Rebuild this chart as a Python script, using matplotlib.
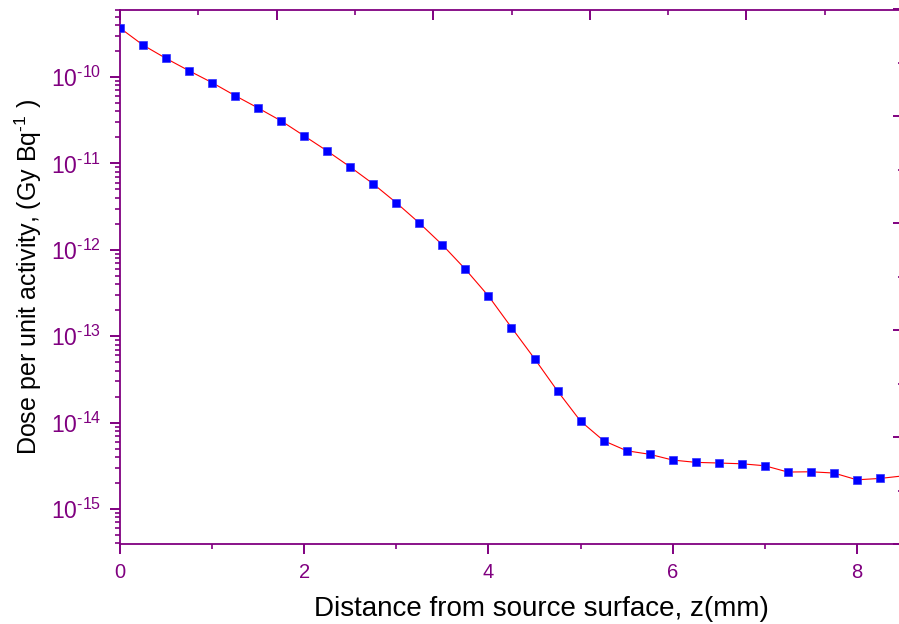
import math
import matplotlib
matplotlib.use("Agg")
import matplotlib.pyplot as plt
from matplotlib.ticker import FixedLocator, FuncFormatter, MultipleLocator, NullFormatter

plt.rcParams['font.family'] = ['Liberation Sans', 'DejaVu Sans']
plt.rcParams['mathtext.fontset'] = 'custom'
plt.rcParams['mathtext.rm'] = 'Liberation Sans'
plt.rcParams['mathtext.it'] = 'Liberation Sans:italic'

# Data
distance_mm = [0.0, 0.25, 0.5, 0.75, 1.0, 1.25, 1.5, 1.75, 2.0, 2.25, 2.5, 2.75,
               3.0, 3.25, 3.5, 3.75, 4.0, 4.25, 4.5, 4.75, 5.0, 5.25, 5.5, 5.75,
               6.0, 6.25, 6.5, 6.75, 7.0, 7.25, 7.5, 7.75, 8.0, 8.25, 8.5]
dose = [3.69e-10, 2.34e-10, 1.64e-10, 1.18e-10, 8.6e-11, 6.08e-11, 4.37e-11, 3.10e-11,
        2.08e-11, 1.39e-11, 9.08e-12, 5.78e-12, 3.50e-12, 2.04e-12, 1.14e-12, 5.95e-13,
        2.92e-13, 1.26e-13, 5.50e-14, 2.32e-14, 1.04e-14, 6.18e-15, 4.73e-15, 4.30e-15,
        3.69e-15, 3.47e-15, 3.41e-15, 3.34e-15, 3.17e-15, 2.68e-15, 2.70e-15, 2.61e-15,
        2.18e-15, 2.26e-15, 2.42e-15]
x_ticks = [0, 2, 4, 6, 8]
y_decades = [-15, -14, -13, -12, -11, -10]
x_label = "Distance from source surface, z(mm)"
y_label = r"Dose per unit activity, (Gy Bq$^{\mathregular{\text{-}1}}$ )"

purple = '#800080'

W, H = 899, 624
fig = plt.figure(figsize=(W/100, H/100), dpi=100)
left, right, bottom, top = 120, 903, 544, 9.5
ax = fig.add_axes([left/W, 1-bottom/H, (right-left)/W, (bottom-top)/H])

ax.plot(distance_mm, dose, color='red', lw=0.8, zorder=2, clip_on=True)
ax.plot(distance_mm, dose, ls='none', marker='s', ms=5.2, mfc='blue', mec='#3030ff',
        mew=0.5, zorder=3, clip_on=True)

ax.set_yscale('log')
ax.set_xlim(0, 8.5)
ax.set_ylim(3.94e-16, 6.04e-10)
ax.set_xticks(x_ticks)
ax.xaxis.set_minor_locator(MultipleLocator(1))
ax.yaxis.set_major_locator(FixedLocator([10.0**e for e in y_decades]))
minor_vals = [m * 10.0**e for e in range(-16, -9) for m in range(2, 10)]
minor_vals = [v for v in minor_vals if 3.94e-16 <= v <= 6.04e-10]
ax.yaxis.set_minor_locator(FixedLocator(minor_vals))
ax.yaxis.set_minor_formatter(NullFormatter())


def fmt(v, p):
    e = round(math.log10(v))
    s = ('\\text{-}%d' % abs(e)) if e < 0 else '%d' % e
    return r'$\mathregular{10^{%s}}$' % s


ax.yaxis.set_major_formatter(FuncFormatter(fmt))

for s in ax.spines.values():
    s.set_color(purple)
    s.set_linewidth(1.3)
ax.spines['right'].set_visible(False)
ax.spines['top'].set_visible(False)

ax.tick_params(which='major', direction='out', length=7.5, width=1.4, color=purple,
               labelcolor=purple)
ax.tick_params(which='minor', direction='out', length=3.8, width=1.2, color=purple)
ax.tick_params(axis='x', which='major', pad=6, labelsize=14.5)
ax.tick_params(axis='y', which='major', pad=6, labelsize=16.5)

ax.set_xlabel(x_label, fontsize=20)
ax.set_ylabel(y_label, fontsize=18)
ax.xaxis.set_label_coords((541-left)/(right-left), -0.097)
ax.yaxis.set_label_coords(-0.097, 0.5)

# right axis (linear ticks, no labels)
ax2 = ax.twinx()
ax2.set_ylim(0, 1)
ax2.yaxis.set_major_locator(MultipleLocator(0.2))
ax2.yaxis.set_minor_locator(MultipleLocator(0.1))
ax2.tick_params(axis='y', which='major', direction='in', length=7.5, width=1.4,
                color=purple, labelright=False, right=True)
ax2.tick_params(axis='y', which='minor', direction='in', length=3.8, width=1.2, color=purple)
for s in ax2.spines.values():
    s.set_visible(False)
ax2.spines['right'].set_visible(True)
ax2.spines['right'].set_color(purple)
ax2.spines['right'].set_linewidth(1.3)

# top axis (linear ticks, no labels)
ax3 = ax.twiny()
ax3.set_xlim(0, 1)
ax3.xaxis.set_major_locator(MultipleLocator(0.2))
ax3.xaxis.set_minor_locator(MultipleLocator(0.1))
ax3.tick_params(axis='x', which='major', direction='in', length=7.5, width=1.4,
                color=purple, labeltop=False, top=True)
ax3.tick_params(axis='x', which='minor', direction='in', length=3.8, width=1.2, color=purple)
for s in ax3.spines.values():
    s.set_visible(False)
ax3.spines['top'].set_visible(True)
ax3.spines['top'].set_color(purple)
ax3.spines['top'].set_linewidth(1.3)

fig.savefig('out.png', dpi=100)
